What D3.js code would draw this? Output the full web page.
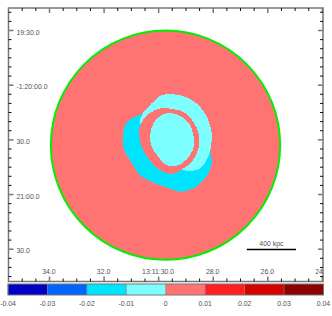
<!DOCTYPE html>
<html>
<head>
<meta charset="utf-8">
<script src="https://cdn.jsdelivr.net/npm/d3@7"></script>
<style>
html, body { margin: 0; padding: 0; background: #fff; overflow: hidden; }
text { font-family: "Liberation Sans", sans-serif; font-size: 6.9px; fill: #505050; }
</style>
</head>
<body>
<div id="chart"></div>
<script>
// --- Data (sky offsets in arcsec from the map centre: [east-west, north-south]) ---
const raTicks = d3.range(24, 35.5, 0.5);
const decTicks = d3.range(20, 170, 5);
const raLabels = [[34, "34.0"], [32, "32.0"], [30, "13:11:30.0"], [28, "28.0"], [26, "26.0"], [24, "24.0"]];
const decLabels = [[30, "19:30.0"], [60, "-1:20:00.0"], [90, "30.0"], [120, "21:00.0"], [150, "30.0"]];

const mapCentre = [29.73, 93.2];   // RA seconds, Dec arcsec past 1:19:00
const mapRadius = 62.9;            // arcsec
const scaleBar = { kpc: 400, arcsec: 27 };

const barBreaks = [-0.04, -0.03, -0.02, -0.01, 0, 0.01, 0.02, 0.03, 0.04];
const barColors = ["#0000c4", "#0064ff", "#00e5ff", "#7dffff", "#ff7373", "#ff1f1f", "#d60000", "#8c0000"];
const barLabels = ["-0.04", "-0.03", "-0.02", "-0.01", "0", "0.01", "0.02", "0.03", "0.04"];

const lowRegion = [[-12.2,-17.4],[-16.8,-15.6],[-20.4,-13.4],[-22.6,-10.1],[-23.2,-6.4],[-23.5,-1.8],[-22.3,3.7],
    [-19.5,8.2],[-16.8,12.8],[-14,16.5],[-9.4,19.2],[-3,22],[2.5,23.8],[8,25.6],[13.5,24.4],[18,22],[21.7,18.3],
    [24.5,13.7],[25.4,9.2],[24.5,2.7],[20.8,-11.9],[6.1,-19.2],[-6.7,-20.1]];
const shellRegion = [[-14,-11.9],[-13.1,-16.5],[-9.4,-21.1],[-5.8,-24.7],[-3,-27.1],[3.4,-28],[10.7,-26.6],[17.1,-22.9],
    [21.7,-17.4],[24.1,-11.9],[25.4,-6.4],[25,0.9],[23.5,6.4],[20.8,11],[18,13.4],[8.9,13.4],[4.3,6.4],[-8.5,-5.5]];
const ringRegion = [[-3,-20.1],[4.3,-19.8],[10.7,-17.8],[15.3,-12.8],[18,-7.3],[18.6,-1.8],[17.5,3.7],[14.4,9.2],
    [9.8,12.8],[4.3,15.6],[-0.3,15],[-4.9,12.3],[-9.4,7.3],[-13.1,0.9],[-14.6,-6.4],[-13.5,-11.9],[-9.4,-17]];
const coreRegion = [[-1.2,-17],[4.3,-17.4],[8.9,-15.6],[13.5,-11],[15.3,-5.5],[15.7,0],[13.5,5.5],[8.9,10.1],[4.3,11.5],
    [-0.3,10.4],[-3.9,6.4],[-7.6,0.9],[-8.5,-5.5],[-6.7,-11.9],[-3.9,-15.2]];

const width = 332, height = 316;
const frame = { left: 8.5, right: 323, top: 8, bottom: 281.5 };

const svg = d3.select("#chart").append("svg")
    .attr("width", width)
    .attr("height", height)
    .style("display", "block");

// --- Scales ---
const x = d3.scaleLinear().domain([34, 26]).range([49, 267.3]);
const y = d3.scaleLinear().domain([30, 150]).range([30, 248.7]);
const barX = d3.scaleLinear().domain([-0.04, 0.04]).range([8, 323.5]);
const pxPerArcsec = y(1) - y(0);

const skyLine = d3.line()
    .x(d => x(mapCentre[0] - d[0] / 15))
    .y(d => y(mapCentre[1] + d[1]))
    .curve(d3.curveCatmullRomClosed.alpha(0.5));

// --- Map ---
svg.append("clipPath").attr("id", "frame-clip").append("rect")
    .attr("x", frame.left).attr("y", frame.top)
    .attr("width", frame.right - frame.left).attr("height", frame.bottom - frame.top);

svg.append("circle")
    .attr("cx", x(mapCentre[0]))
    .attr("cy", y(mapCentre[1]))
    .attr("r", mapRadius * pxPerArcsec)
    .attr("fill", barColors[4])
    .attr("stroke", "#00f000")
    .attr("stroke-width", 2);

const regions = [[lowRegion, barColors[2]], [shellRegion, barColors[3]], [ringRegion, barColors[4]], [coreRegion, barColors[3]]];
svg.selectAll("path.region")
    .data(regions)
    .enter()
    .append("path")
    .attr("class", "region")
    .attr("d", d => skyLine(d[0]))
    .attr("fill", d => d[1])
    .attr("shape-rendering", "crispEdges");

// --- Frame and ticks ---
svg.append("rect")
    .attr("x", frame.left).attr("y", frame.top)
    .attr("width", frame.right - frame.left).attr("height", frame.bottom - frame.top)
    .attr("fill", "none")
    .attr("stroke", "#777")
    .attr("stroke-width", 1.5);

function styleTicks(g, isMajor) {
    g.select(".domain").remove();
    g.selectAll(".tick text").remove();
    g.selectAll(".tick line")
        .attr("stroke", d => isMajor(d) ? "#777" : "#111")
        .attr("stroke-width", d => isMajor(d) ? 1.5 : 1);
}
const raMajor = d => d % 2 === 0;
const decMajor = d => d % 30 === 0;
const tickLen = 3, majorLen = 5;

[[d3.axisBottom, frame.top], [d3.axisTop, frame.bottom]].forEach(([axis, pos]) => {
    svg.append("g")
        .attr("transform", `translate(0,${pos})`)
        .call(axis(x).tickValues(raTicks).tickSize(tickLen))
        .call(g => styleTicks(g, raMajor))
        .selectAll(".tick line")
        .attr("y2", d => (axis === d3.axisTop ? -1 : 1) * (raMajor(d) ? majorLen : tickLen));
});
[[d3.axisRight, frame.left], [d3.axisLeft, frame.right]].forEach(([axis, pos]) => {
    svg.append("g")
        .attr("transform", `translate(${pos},0)`)
        .call(axis(y).tickValues(decTicks).tickSize(tickLen))
        .call(g => styleTicks(g, decMajor))
        .selectAll(".tick line")
        .attr("x2", d => (axis === d3.axisLeft ? -1 : 1) * (decMajor(d) ? majorLen : tickLen));
});

// --- Tick labels ---
svg.append("g")
    .attr("clip-path", "url(#frame-clip)")
    .selectAll("text")
    .data(raLabels)
    .enter()
    .append("text")
    .attr("x", d => x(d[0]))
    .attr("y", 273.5)
    .attr("text-anchor", "middle")
    .text(d => d[1]);

svg.selectAll("text.dec")
    .data(decLabels)
    .enter()
    .append("text")
    .attr("class", "dec")
    .attr("x", 16.5)
    .attr("y", d => y(d[0]) + 4.5)
    .text(d => d[1]);

// --- Scale bar ---
const barEnd = 296;
svg.append("line")
    .attr("x1", barEnd - scaleBar.arcsec * pxPerArcsec)
    .attr("x2", barEnd)
    .attr("y1", 249.5)
    .attr("y2", 249.5)
    .attr("stroke", "#000")
    .attr("stroke-width", 1.5);
svg.append("text")
    .attr("x", barEnd - scaleBar.arcsec * pxPerArcsec / 2)
    .attr("y", 246)
    .attr("text-anchor", "middle")
    .text(`${scaleBar.kpc} kpc`);

// --- Colour bar ---
svg.selectAll("rect.swatch")
    .data(barColors)
    .enter()
    .append("rect")
    .attr("class", "swatch")
    .attr("x", (d, i) => barX(barBreaks[i]))
    .attr("y", 284)
    .attr("width", (d, i) => barX(barBreaks[i + 1]) - barX(barBreaks[i]))
    .attr("height", 11)
    .attr("fill", d => d);

svg.append("rect")
    .attr("x", barX(-0.04)).attr("y", 284)
    .attr("width", barX(0.04) - barX(-0.04)).attr("height", 11)
    .attr("fill", "none")
    .attr("stroke", "#777")
    .attr("stroke-width", 1);

svg.selectAll("line.divider")
    .data(barBreaks)
    .enter()
    .append("line")
    .attr("class", "divider")
    .attr("x1", d => barX(d)).attr("x2", d => barX(d))
    .attr("y1", 284).attr("y2", 295)
    .attr("stroke", "#777")
    .attr("stroke-opacity", 0.6);

svg.selectAll("text.barlabel")
    .data(barBreaks)
    .enter()
    .append("text")
    .attr("class", "barlabel")
    .attr("x", d => barX(d))
    .attr("y", 306)
    .attr("text-anchor", "middle")
    .text((d, i) => barLabels[i]);
</script>
</body>
</html>
